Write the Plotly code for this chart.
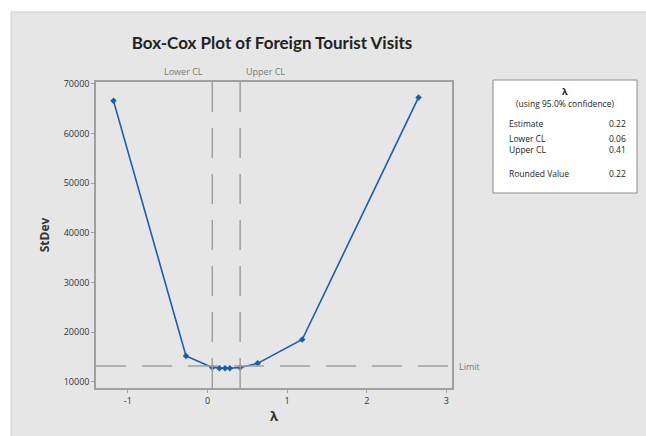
import plotly.graph_objects as go

# Box-Cox profile: lambda vs. standard deviation of transformed data
lambdas = [-1.18, -0.27, 0.06, 0.15, 0.22, 0.28, 0.41, 0.63, 1.19, 2.65]
stdevs = [66600, 15200, 12850, 12730, 12700, 12720, 12850, 13700, 18500, 67300]

limit_value = 13150
estimate = 0.22
lower_cl = 0.06
upper_cl = 0.41
rounded_value = 0.22

x_ticks = [-1, 0, 1, 2, 3]
y_ticks = [10000, 20000, 30000, 40000, 50000, 60000, 70000]

x_range = [-1.40, 3.07]
y_range = [8730, 70400]

FONT = "Open Sans"
TITLE_FONT = "Lato"
GRID_GRAY = "#a0a0a0"
LABEL_GRAY = "#7a7a7a"

fig = go.Figure()

fig.add_trace(go.Scatter(
    x=lambdas, y=stdevs, mode="lines+markers",
    line=dict(color="#1a5eab", width=1.6),
    marker=dict(symbol="diamond", size=5, color="#1a5eab"),
    showlegend=False, hoverinfo="x+y",
))

dash = "30px,16px"
shapes = [
    # grey panel behind everything
    dict(type="rect", xref="paper", yref="paper",
         x0=-85 / 356, x1=1.6, y0=-0.2, y1=(388 - 12) / 306,
         fillcolor="#e6e6e6", line=dict(color="#cfcfcf", width=1), layer="below"),
    # confidence limit lines
    dict(type="line", xref="x", yref="paper", x0=lower_cl, x1=lower_cl, y0=0, y1=1,
         line=dict(color=GRID_GRAY, width=1.5, dash=dash)),
    dict(type="line", xref="x", yref="paper", x0=upper_cl, x1=upper_cl, y0=0, y1=1,
         line=dict(color=GRID_GRAY, width=1.5, dash=dash)),
    # limit line
    dict(type="line", xref="paper", yref="y", x0=0, x1=1, y0=limit_value, y1=limit_value,
         line=dict(color=GRID_GRAY, width=1.5, dash=dash)),
    # legend box
    dict(type="rect", xref="paper", yref="paper",
         x0=(493 - 96) / 356, x1=(637 - 96) / 356,
         y0=(388 - 193) / 306, y1=(388 - 80) / 306,
         fillcolor="white", line=dict(color="#8a8a8a", width=1)),
]

def px(xp):
    return (xp - 96) / 356

def py(yp):
    return (388 - yp) / 306

annotations = [
    dict(text="Lower CL", xref="x", yref="paper", x=lower_cl, y=py(72),
         xanchor="right", yanchor="middle", xshift=-7, showarrow=False,
         font=dict(family=FONT, size=9, color=LABEL_GRAY)),
    dict(text="Upper CL", xref="x", yref="paper", x=upper_cl, y=py(72),
         xanchor="left", yanchor="middle", xshift=4, showarrow=False,
         font=dict(family=FONT, size=9, color=LABEL_GRAY)),
    dict(text="Limit", xref="paper", yref="y", x=1, y=limit_value,
         xanchor="left", yanchor="middle", xshift=5, showarrow=False,
         font=dict(family=FONT, size=9, color=LABEL_GRAY)),
    dict(text="<b>λ</b>", xref="paper", yref="paper", x=px(565), y=py(91),
         xanchor="center", yanchor="middle", showarrow=False,
         font=dict(family=FONT, size=9, color="#222")),
    dict(text="(using 95.0% confidence)", xref="paper", yref="paper", x=px(565), y=py(103),
         xanchor="center", yanchor="middle", showarrow=False,
         font=dict(family=FONT, size=8.5, color="#222")),
]

rows = [("Estimate", estimate, 123), ("Lower CL", lower_cl, 138),
        ("Upper CL", upper_cl, 149), ("Rounded Value", rounded_value, 173)]
for label, val, ypx in rows:
    annotations.append(dict(text=label, xref="paper", yref="paper", x=px(507), y=py(ypx),
                            xanchor="left", yanchor="middle", showarrow=False,
                            font=dict(family=FONT, size=8.5, color="#222")))
    annotations.append(dict(text=f"{val:.2f}", xref="paper", yref="paper", x=px(628), y=py(ypx),
                            xanchor="right", yanchor="middle", showarrow=False,
                            font=dict(family=FONT, size=8.5, color="#222")))

fig.update_layout(
    width=646, height=436,
    margin=dict(l=96, r=194, t=82, b=48),
    paper_bgcolor="white", plot_bgcolor="white",
    title=dict(text="<b>Box-Cox Plot of Foreign Tourist Visits</b>", x=272 / 646, xanchor="center",
               y=1 - 43 / 436, yanchor="middle",
               font=dict(family=TITLE_FONT, size=17, color="#222")),
    xaxis=dict(range=x_range, tickvals=x_ticks, ticktext=[str(t) for t in x_ticks],
               showgrid=False, zeroline=False, showline=True, mirror=True,
               linecolor=GRID_GRAY, linewidth=1.5, ticks="outside", ticklen=3,
               tickcolor=GRID_GRAY, tickfont=dict(family=FONT, size=9, color="#333"),
               title=dict(text="<b>λ</b>", font=dict(family=FONT, size=13, color="#333"), standoff=6)),
    yaxis=dict(range=y_range, tickvals=y_ticks, ticktext=[str(t) for t in y_ticks],
               showgrid=False, zeroline=False, showline=True, mirror=True,
               linecolor=GRID_GRAY, linewidth=1.5, ticks="outside", ticklen=3,
               tickcolor=GRID_GRAY, tickfont=dict(family=FONT, size=9, color="#333"),
               title=dict(text="<b>StDev</b>", font=dict(family=FONT, size=12, color="#333"), standoff=12)),
    shapes=shapes, annotations=annotations,
)

fig.write_html("out.html")
